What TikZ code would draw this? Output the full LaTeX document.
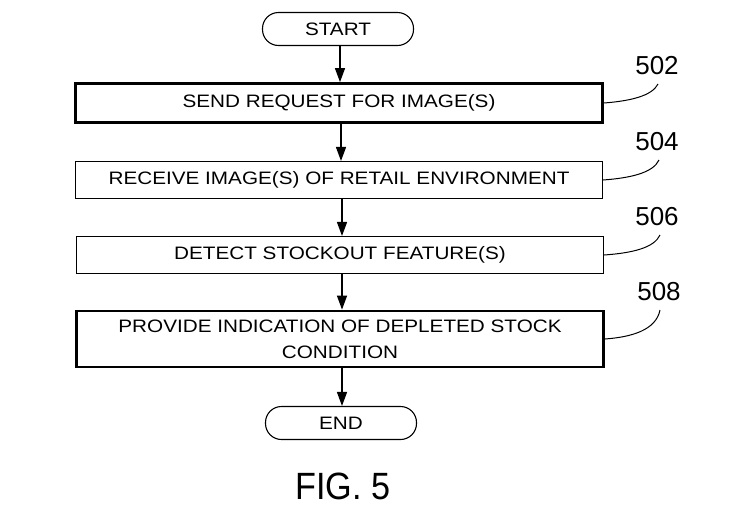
\documentclass[tikz,border=0pt]{standalone}
\usepackage{fontspec}
\setmainfont{Liberation Sans}
\newfontfamily\boxfont[FakeStretch=1.15]{Liberation Sans}
\newfontfamily\figfont[FakeStretch=0.9]{Liberation Sans}
\usetikzlibrary{arrows.meta}
\begin{document}
\begin{tikzpicture}[x=1pt,y=-1pt,
  term/.style={draw,line width=1.1pt,rounded corners=16pt,minimum width=151pt,minimum height=33pt,font=\boxfont\fontsize{18}{21}\selectfont,inner sep=0pt},
  thinbox/.style={draw,line width=1.1pt,minimum width=527pt,minimum height=37pt,font=\boxfont\fontsize{18}{21}\selectfont,inner sep=0pt},
  thickbox/.style={draw,line width=2.8pt,minimum width=527pt,font=\boxfont\fontsize{18}{21}\selectfont,inner sep=0pt,align=center},
  flow/.style={line width=1.4pt,-{Triangle[length=14pt,width=10pt]}},
  leader/.style={line width=1pt},
  ref/.style={font=\fontsize{26}{30}\selectfont,inner sep=0pt}]
\useasboundingbox (0,0) rectangle (731,520);
\node[term] (start) at (338,29) {START};
\node[thickbox,minimum height=39pt] (b502) at (339,103) {SEND REQUEST FOR IMAGE(S)};
\node[thinbox] (b504) at (339,180) {RECEIVE IMAGE(S) OF RETAIL ENVIRONMENT};
\node[thinbox] (b506) at (340,255) {DETECT STOCKOUT FEATURE(S)};
\node[thickbox,minimum height=56pt] (b508) at (340,339) {PROVIDE INDICATION OF DEPLETED STOCK\\[5pt]CONDITION};
\node[term] (end) at (341,423) {END};
\node[font=\figfont\fontsize{38}{44}\selectfont,inner sep=0pt] (fig) at (343,486) {FIG. 5};
\draw[flow] (start.south -| 340,0) -- (b502.north -| 340,0);
\draw[flow] (b502.south -| 341,0) -- (b504.north -| 341,0);
\draw[flow] (b504.south -| 342,0) -- (b506.north -| 342,0);
\draw[flow] (b506.south -| 342,0) -- (b508.north -| 342,0);
\draw[flow] (b508.south -| 342,0) -- (end.north -| 342,0);
\node[ref] (l502) at (657,66) {502};
\node[ref] (l504) at (657,142) {504};
\node[ref] (l506) at (657,217) {506};
\node[ref] (l508) at (659,292) {508};
\coordinate (e502) at (658,84);
\coordinate (e504) at (659,160);
\coordinate (e506) at (660,235);
\coordinate (e508) at (660,310);
\draw[leader] (b502.east |- 0,103) .. controls (630,101) and (652,96) .. (e502);
\draw[leader] (b504.east |- 0,180) .. controls (630,178) and (653,173) .. (e504);
\draw[leader] (b506.east |- 0,255) .. controls (632,253) and (654,248) .. (e506);
\draw[leader] (b508.east |- 0,339) .. controls (632,337) and (656,330) .. (e508);
\end{tikzpicture}
\end{document}
